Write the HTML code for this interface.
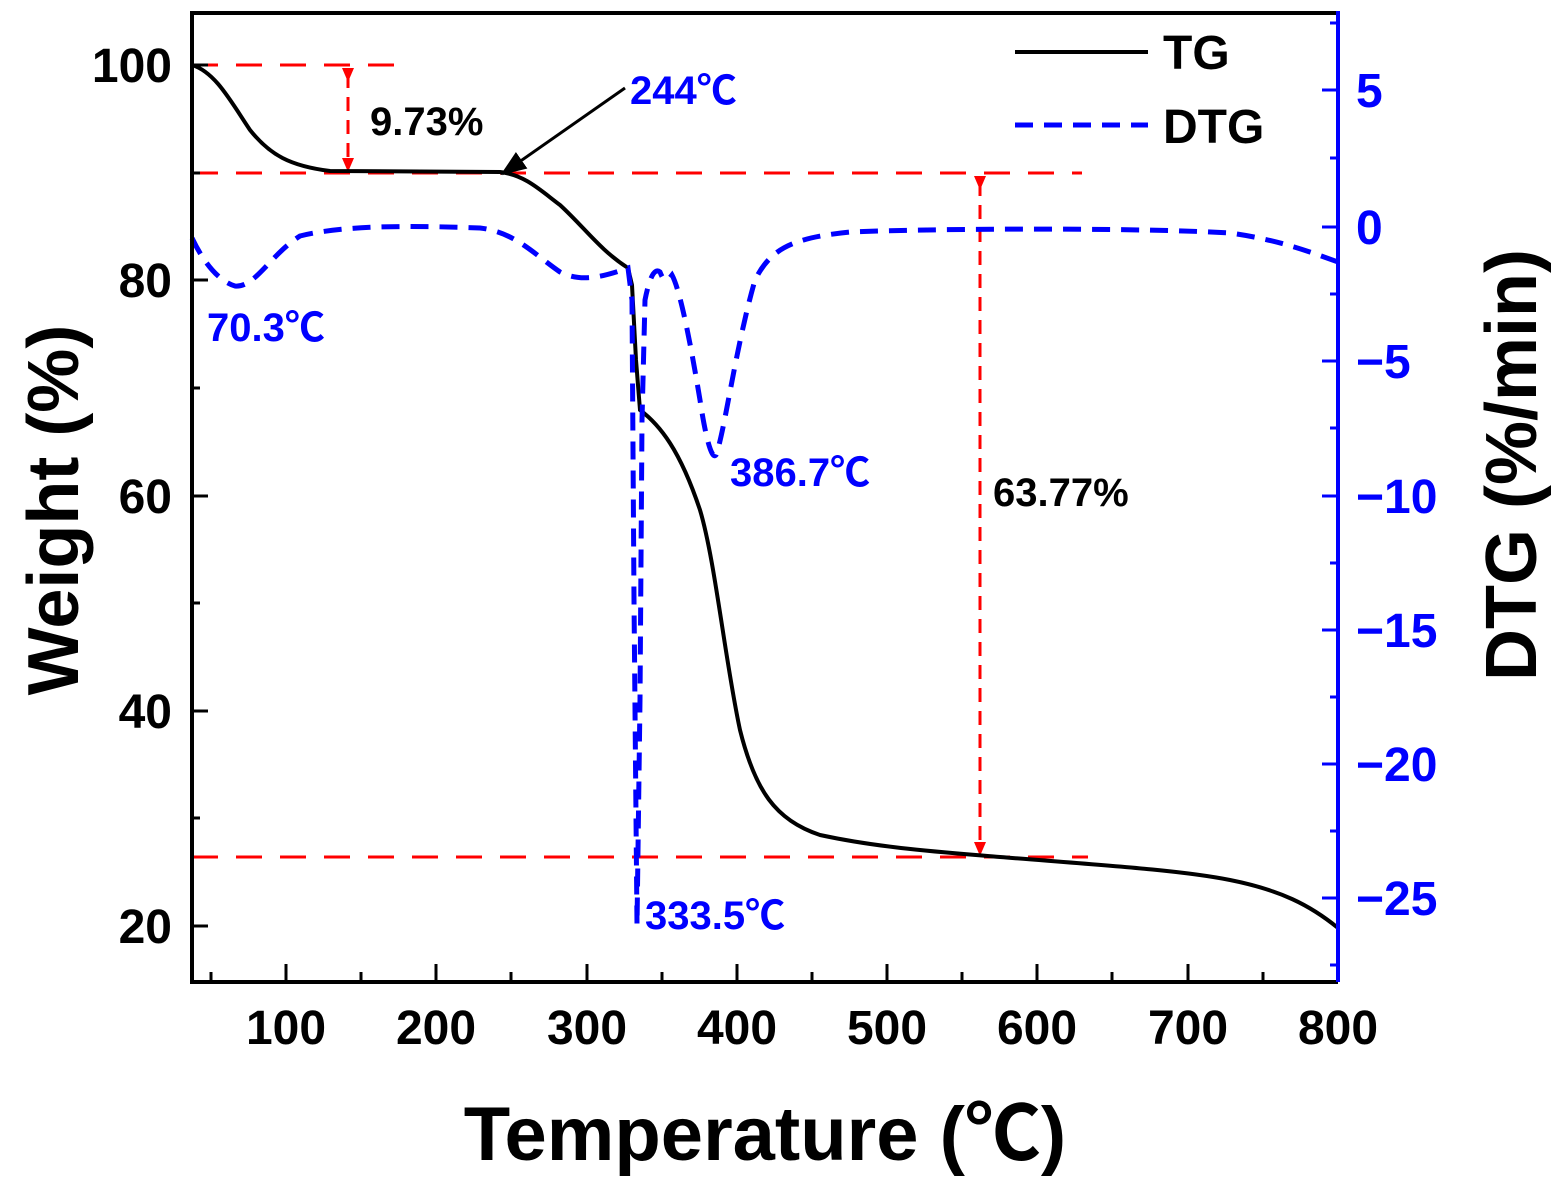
<!DOCTYPE html>
<html><head><meta charset="utf-8"><style>
html,body{margin:0;padding:0;background:#fff}
svg{display:block}
text{font-family:"Liberation Sans","Noto Sans CJK SC",sans-serif;font-weight:bold}
</style></head><body>
<svg width="1562" height="1187" viewBox="0 0 1562 1187" xmlns="http://www.w3.org/2000/svg">
<defs>
<marker id="ar" markerWidth="12" markerHeight="14" refX="6" refY="7" orient="auto" markerUnits="userSpaceOnUse"><path d="M0,1 L14,7 L0,13 Z" fill="#f00"/></marker>
<marker id="bk" markerWidth="26" markerHeight="20" refX="24" refY="10" orient="auto" markerUnits="userSpaceOnUse"><path d="M0,0 L26,10 L0,20 Z" fill="#000"/></marker>
</defs>
<g stroke="#f00" stroke-width="3" stroke-dasharray="26,18" fill="none">
<line x1="192" y1="65" x2="402" y2="65"/>
<line x1="192" y1="173" x2="1082" y2="173"/>
<line x1="192" y1="857" x2="1088" y2="857"/>
</g>
<g stroke="#f00" stroke-width="3" stroke-dasharray="14,9" fill="none">
<line x1="348" y1="74" x2="348" y2="164" marker-start="url(#ar)" marker-end="url(#ar)"/>
<line x1="980" y1="182" x2="980" y2="848" marker-start="url(#ar)" marker-end="url(#ar)"/>
</g>
<path d="M192,65 C215,72 230,100 250,130 C270,155 290,166 330,171 L500,172 C525,175 540,190 560,205 C585,228 600,250 628,268 L632,285 L636,360 L640,410 C660,425 680,450 700,510 C715,560 725,660 740,730 C755,790 775,820 820,835 C880,848 940,852 1000,857 C1100,865 1180,870 1230,880 C1280,890 1310,905 1338,928" fill="none" stroke="#000" stroke-width="4"/>
<path d="M192,238 C200,255 215,280 235,286 C255,288 270,255 300,236 C340,226 400,225 480,228 C515,232 535,255 560,272 C580,282 600,278 628,268 L632,300 L634,600 L637,925 L640,700 L642,420 L645,300 C650,275 655,268 660,272 C665,285 668,280 672,275 C680,290 690,340 700,400 C706,440 712,460 716,455 C725,430 735,350 755,280 C770,250 790,238 850,232 C950,228 1150,228 1230,233 C1280,240 1310,252 1338,262" fill="none" stroke="#00f" stroke-width="5" stroke-dasharray="18,11"/>
<line x1="625" y1="88" x2="502" y2="174" stroke="#000" stroke-width="3" marker-end="url(#bk)"/>
<path d="M192,13 H1338" stroke="#000" stroke-width="4"/>
<path d="M192,11 V982 H1338" stroke="#000" stroke-width="4" fill="none"/>
<line x1="1338" y1="11" x2="1338" y2="982" stroke="#00f" stroke-width="4"/>
<g stroke="#000" stroke-width="3">
<line x1="286" y1="980" x2="286" y2="964"/><line x1="436" y1="980" x2="436" y2="964"/><line x1="587" y1="980" x2="587" y2="964"/><line x1="737" y1="980" x2="737" y2="964"/><line x1="887" y1="980" x2="887" y2="964"/><line x1="1037" y1="980" x2="1037" y2="964"/><line x1="1188" y1="980" x2="1188" y2="964"/>
<line x1="211" y1="980" x2="211" y2="972"/><line x1="361" y1="980" x2="361" y2="972"/><line x1="511" y1="980" x2="511" y2="972"/><line x1="662" y1="980" x2="662" y2="972"/><line x1="812" y1="980" x2="812" y2="972"/><line x1="962" y1="980" x2="962" y2="972"/><line x1="1112" y1="980" x2="1112" y2="972"/><line x1="1263" y1="980" x2="1263" y2="972"/>
<line x1="192" y1="926" x2="208" y2="926"/><line x1="192" y1="711" x2="208" y2="711"/><line x1="192" y1="496" x2="208" y2="496"/><line x1="192" y1="280" x2="208" y2="280"/><line x1="192" y1="65" x2="208" y2="65"/>
<line x1="192" y1="818" x2="200" y2="818"/><line x1="192" y1="603" x2="200" y2="603"/><line x1="192" y1="388" x2="200" y2="388"/><line x1="192" y1="173" x2="200" y2="173"/>
</g>
<g stroke="#00f" stroke-width="3">
<line x1="1338" y1="90" x2="1322" y2="90"/><line x1="1338" y1="227" x2="1322" y2="227"/><line x1="1338" y1="361" x2="1322" y2="361"/><line x1="1338" y1="496" x2="1322" y2="496"/><line x1="1338" y1="630" x2="1322" y2="630"/><line x1="1338" y1="764" x2="1322" y2="764"/><line x1="1338" y1="898" x2="1322" y2="898"/>
<line x1="1338" y1="23" x2="1330" y2="23"/><line x1="1338" y1="158" x2="1330" y2="158"/><line x1="1338" y1="294" x2="1330" y2="294"/><line x1="1338" y1="428" x2="1330" y2="428"/><line x1="1338" y1="563" x2="1330" y2="563"/><line x1="1338" y1="697" x2="1330" y2="697"/><line x1="1338" y1="831" x2="1330" y2="831"/><line x1="1338" y1="965" x2="1330" y2="965"/>
</g>
<g font-size="48" text-anchor="middle" fill="#000">
<text x="286" y="1044">100</text><text x="436" y="1044">200</text><text x="587" y="1044">300</text><text x="737" y="1044">400</text><text x="887" y="1044">500</text><text x="1037" y="1044">600</text><text x="1188" y="1044">700</text><text x="1338" y="1044">800</text>
</g>
<g font-size="48" text-anchor="end" fill="#000">
<text x="172" y="943">20</text><text x="172" y="728">40</text><text x="172" y="513">60</text><text x="172" y="297">80</text><text x="172" y="82">100</text>
</g>
<g font-size="48" text-anchor="start" fill="#00f">
<text x="1356" y="107">5</text><text x="1356" y="244">0</text><text x="1356" y="378">−5</text><text x="1356" y="513">−10</text><text x="1356" y="647">−15</text><text x="1356" y="781">−20</text><text x="1356" y="915">−25</text>
</g>
<text x="765" y="1160" font-size="76" text-anchor="middle">Temperature (℃)</text>
<text transform="translate(78,510) rotate(-90)" font-size="72" text-anchor="middle">Weight (%)</text>
<text transform="translate(1536,465) rotate(-90)" font-size="72" text-anchor="middle">DTG (%/min)</text>
<line x1="1015" y1="52" x2="1148" y2="52" stroke="#000" stroke-width="4"/>
<text x="1163" y="69" font-size="48">TG</text>
<line x1="1015" y1="125" x2="1148" y2="125" stroke="#00f" stroke-width="5" stroke-dasharray="18,11"/>
<text x="1163" y="143" font-size="48">DTG</text>
<text x="370" y="135" font-size="40" fill="#000">9.73%</text>
<text x="630" y="104" font-size="40" fill="#00f">244℃</text>
<text x="207" y="341" font-size="40" fill="#00f">70.3℃</text>
<text x="730" y="486" font-size="40" fill="#00f">386.7℃</text>
<text x="993" y="506" font-size="40" fill="#000">63.77%</text>
<text x="645" y="929" font-size="40" fill="#00f">333.5℃</text>
</svg>
</body></html>
